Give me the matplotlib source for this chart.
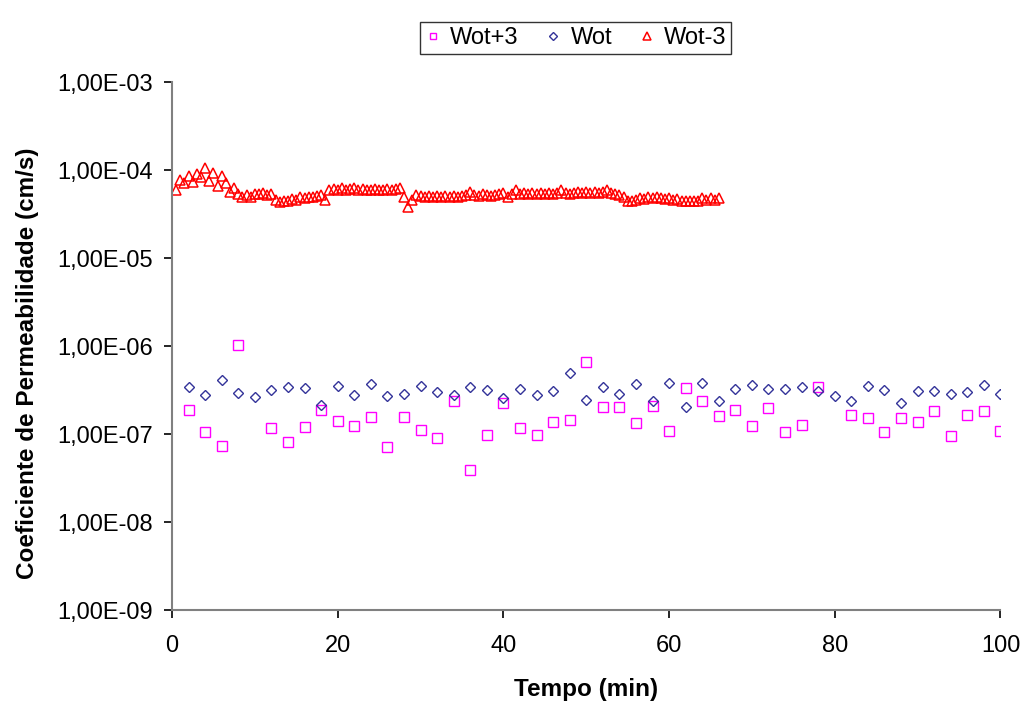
import matplotlib.pyplot as plt
import numpy as np
from matplotlib.ticker import FuncFormatter, NullLocator, FixedLocator

plt.rcParams['font.family'] = ['Liberation Sans', 'DejaVu Sans']

# time (min) for Wot+3 and Wot, one reading every 2 min
t_even = np.arange(2, 101, 2)

# Wot+3 (x1e-7); nan where no point is shown
wot_p3 = [1.87, 1.06, 0.73, 10.2, np.nan, 1.16, 0.82, 1.21, 1.87, 1.42,
          1.22, 1.55, 0.71, 1.58, 1.11, 0.90, 2.37, 0.387, 0.97, 2.23,
          1.18, 0.97, 1.38, 1.44, 6.52, 2.01, 2.02, 1.33, 2.08, 1.08,
          3.30, 2.39, 1.60, 1.90, 1.24, 1.96, 1.06, 1.26, 3.45, np.nan,
          1.66, 1.51, 1.07, 1.51, 1.39, 1.85, 0.95, 1.66, 1.81, 1.09]

# Wot (x1e-7)
wot = [3.45, 2.75, 4.14, 2.95, 2.63, 3.18, 3.42, 3.37, 2.12, 3.54,
       2.80, 3.73, 2.68, 2.87, 3.54, 3.00, 2.77, 3.39, 3.18, 2.59,
       3.27, 2.77, 3.05, 4.89, 2.42, 3.45, 2.82, 3.73, 2.39, 3.77,
       2.05, 3.80, 2.35, 3.22, 3.57, 3.27, 3.27, 3.39, 3.10, 2.68,
       2.37, 3.51, 3.14, 2.27, 3.05, 3.08, 2.82, 3.00, 3.64, 2.87]

# Wot-3, one reading every 0.5 min up to 66 min (x1e-5)
t_half = np.arange(0.5, 66.01, 0.5)
wot_m3 = [6.0, 7.8, 7.2, 8.6, 7.4, 9.0, 8.4, 10.5, 7.6, 9.2,
          6.6, 8.5, 7.2, 5.7, 6.2, 5.4, 5.0, 5.2, 5.0, 5.4,
          5.3, 5.5, 5.2, 5.4, 4.6, 4.3, 4.4, 4.5, 4.7, 4.6,
          4.9, 4.8, 5.0, 4.9, 5.1, 5.2, 4.6, 5.9, 6.1, 6.0,
          6.2, 6.0, 6.1, 6.2, 5.9, 6.1, 6.0, 6.0, 6.1, 6.0,
          6.0, 6.1, 6.0, 6.1, 6.3, 5.0, 3.8, 4.6, 5.2, 5.1,
          5.0, 5.1, 5.0, 5.1, 5.0, 5.1, 5.0, 5.1, 4.9, 5.1,
          5.2, 5.6, 5.2, 5.1, 5.3, 5.2, 5.1, 5.2, 5.3, 5.5,
          4.9, 5.3, 5.9, 5.4, 5.5, 5.4, 5.5, 5.4, 5.5, 5.4,
          5.5, 5.4, 5.5, 5.9, 5.5, 5.4, 5.5, 5.6, 5.5, 5.6,
          5.5, 5.6, 5.5, 5.6, 5.9, 5.5, 5.4, 5.2, 4.9, 4.4,
          4.5, 4.6, 4.8, 4.7, 4.9, 4.8, 4.9, 4.8, 4.7, 4.8,
          4.6, 4.7, 4.5, 4.4, 4.5, 4.4, 4.5, 4.8, 4.6, 4.8,
          4.6, 4.8]

fig = plt.figure(figsize=(10.24, 7.07), dpi=100)
ax = fig.add_axes([0.168, 0.137, 0.809, 0.747])

ax.plot(t_even, np.array(wot_p3) * 1e-7, 's', ls='none', mfc='none',
        mec='#FF00FF', mew=1.0, ms=6.5, label='Wot+3')
ax.plot(t_even, np.array(wot) * 1e-7, 'D', ls='none', mfc='none',
        mec='#333399', mew=1.0, ms=5, label='Wot')
ax.plot(t_half, np.array(wot_m3) * 1e-5, '^', ls='none', mfc='none',
        mec='#FF0000', mew=1.1, ms=7.5, label='Wot-3')

ax.set_yscale('log')
ax.set_ylim(1e-9, 1e-3)
ax.set_xlim(0, 100)
ax.yaxis.set_major_locator(FixedLocator([1e-9, 1e-8, 1e-7, 1e-6, 1e-5, 1e-4, 1e-3]))
ax.yaxis.set_minor_locator(NullLocator())
ax.yaxis.set_major_formatter(FuncFormatter(lambda v, p: f"{v:.2E}".replace('.', ',')))
ax.set_xticks([0, 20, 40, 60, 80, 100])

for s in ['top', 'right']:
    ax.spines[s].set_visible(False)
for s in ['left', 'bottom']:
    ax.spines[s].set_color('#808080')
    ax.spines[s].set_linewidth(1.5)
ax.tick_params(axis='both', direction='out', length=6, width=1.2, color='black')
ax.tick_params(axis='y', labelsize=17, pad=8)
ax.tick_params(axis='x', labelsize=17, pad=12)

ax.set_xlabel('Tempo (min)', fontsize=17.5, fontweight='bold', labelpad=15)
ax.set_ylabel('Coeficiente de Permeabilidade (cm/s)', fontsize=17.5,
              fontweight='bold')
ax.yaxis.set_label_coords(-0.161, 0.468)

leg = fig.legend(loc='upper center', bbox_to_anchor=(0.562, 0.985), ncol=3,
                 fontsize=17, frameon=True, fancybox=False, edgecolor='black',
                 handlelength=0.7, handletextpad=0.4, columnspacing=1.1,
                 borderpad=0.2, markerscale=0.75)
leg.get_frame().set_linewidth(1.0)

fig.savefig('out.png', dpi=100)
